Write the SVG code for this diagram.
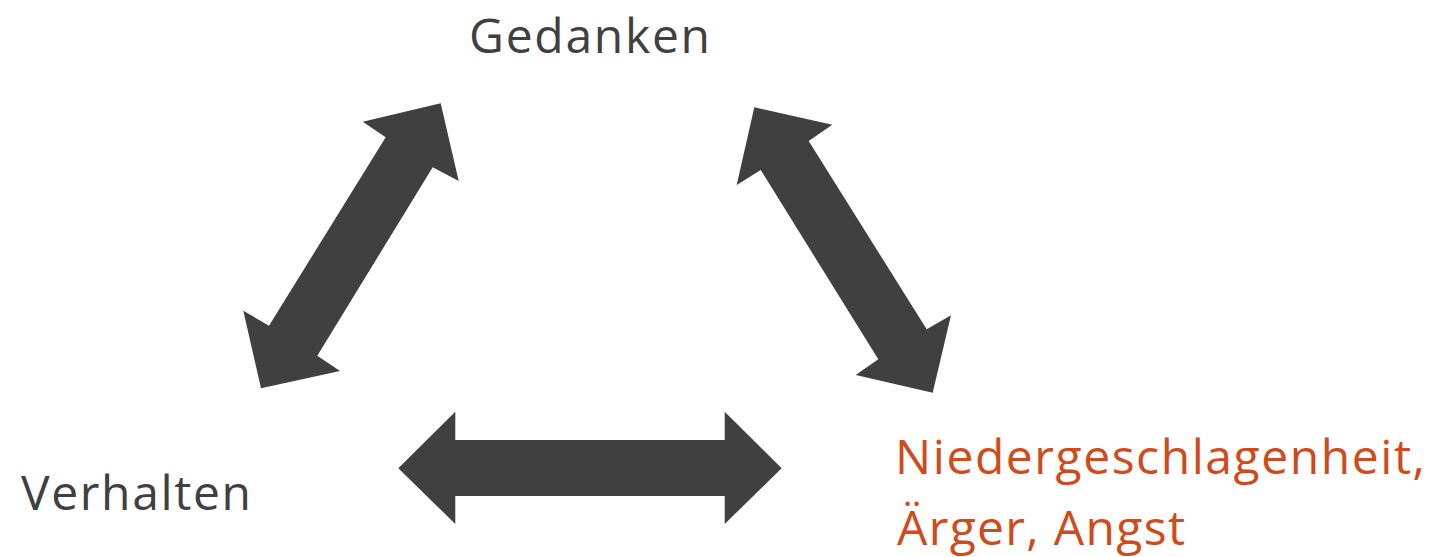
<svg xmlns="http://www.w3.org/2000/svg" width="1434" height="557" viewBox="0 0 1434 557">
  <style>
    .lbl { font-family: "Open Sans", Lato, "Liberation Sans", sans-serif; font-size: 48px; }
    .gray { fill: #404040; }
    .orange { fill: #CF4B1B; }
    .arrow { fill: #404040; stroke: none; }
  </style>
  <rect width="1434" height="557" fill="#FFFFFF"/>
  <g id="connectors">
    <polygon class="arrow" points="440.7,103.3 458.7,181 432.7,167.3 317.3,355.7 340,371 261,388.3 243.3,310.7 269,325.7 385.7,137.3 362.7,121.7"/>
    <polygon class="arrow" points="754.3,107.3 832.3,124.7 808.7,141 926.7,329.3 951,315.3 932.7,392.7 855.7,375 878.3,359.3 760.7,170 736.7,185"/>
    <polygon class="arrow" points="398.3,468.3 455.3,411.7 455.3,440 724.7,440 724.7,411.7 781.7,468.3 724.7,524 724.7,496 455.3,496 455.3,524"/>
  </g>
  <g id="node-gedanken">
    <text class="lbl gray" x="469" y="52.5" textLength="241" lengthAdjust="spacing">Gedanken</text>
  </g>
  <g id="node-verhalten">
    <text class="lbl gray" x="21" y="509.5" textLength="230" lengthAdjust="spacing">Verhalten</text>
  </g>
  <g id="node-gefuehle">
    <text class="lbl orange" x="895" y="473.5" textLength="530" lengthAdjust="spacing">Niedergeschlagenheit,</text>
    <text class="lbl orange" x="897" y="545" textLength="288" lengthAdjust="spacing">Ärger, Angst</text>
  </g>
</svg>
